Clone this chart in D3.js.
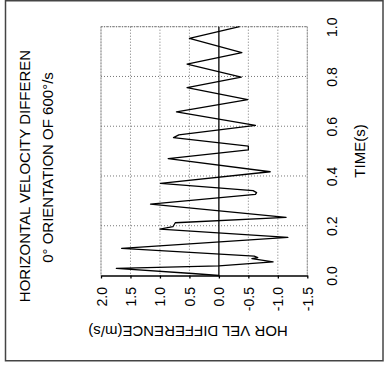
<!DOCTYPE html>
<html>
<head>
<meta charset="utf-8">
<script src="https://cdn.jsdelivr.net/npm/d3@7"></script>
<style>
body { margin: 0; background: #fff; }
text { font-family: "Liberation Sans", Arial, Helvetica, sans-serif; fill: #000; }
</style>
</head>
<body>
<div id="chart"></div>
<script>
var W = 388, H = 365;

// time (s) and horizontal velocity difference (m/s)
var times = [0.0, 0.008, 0.029, 0.039, 0.055, 0.068, 0.072, 0.078, 0.109, 0.153, 0.186, 0.196, 0.212, 0.234,
	0.287, 0.326, 0.333, 0.341, 0.37, 0.417, 0.47, 0.505, 0.52, 0.554, 0.565, 0.603, 0.658, 0.707,
	0.755, 0.797, 0.85, 0.896, 0.953, 1.0];
var velDiff = [0.0, 0.45, 1.74, 0.0, -0.92, -0.56, -0.66, -0.6, 1.65, -1.17, 1.0, 0.78, 0.74, -1.14,
	1.16, -0.62, -0.64, -0.58, 0.99, -0.87, 0.86, -0.5, -0.5, 0.77, 0.68, -0.62, 0.72, -0.49,
	0.54, -0.38, 0.54, -0.39, 0.5, -0.35];

var velTicks = [2.0, 1.5, 1.0, 0.5, 0.0, -0.5, -1.0, -1.5];
var timeTicks = [0.0, 0.2, 0.4, 0.6, 0.8, 1.0];

var pLeft = 101, pRight = 307.3, pTop = 26.7, pBottom = 275.5;

var v = d3.scaleLinear().domain([2.0, -1.5]).range([pLeft, pRight]);
var t = d3.scaleLinear().domain([0, 1]).range([pBottom, pTop]);
var fmt = d => d.toFixed(1);

var svg = d3.select("#chart").append("svg")
	.attr("width", W)
	.attr("height", H);

// outer border
svg.append("rect")
	.attr("x", 5.5)
	.attr("y", 0.75)
	.attr("width", 377.5)
	.attr("height", 360)
	.style("fill", "none")
	.style("stroke", "#444")
	.style("stroke-width", 1.5);

// dotted grid
var grid = svg.append("g");
grid.selectAll("line.vg")
	.data(velTicks.filter(d => d !== 0))
	.enter()
	.append("line")
	.attr("x1", d => v(d))
	.attr("x2", d => v(d))
	.attr("y1", pTop)
	.attr("y2", pBottom)
	.style("stroke", "#777")
	.style("stroke-width", 1)
	.style("stroke-dasharray", "1,2");

grid.selectAll("line.tg")
	.data(timeTicks.filter(d => d !== 0))
	.enter()
	.append("line")
	.attr("x1", pLeft)
	.attr("x2", pRight)
	.attr("y1", d => t(d))
	.attr("y2", d => t(d))
	.style("stroke", "#777")
	.style("stroke-width", 1)
	.style("stroke-dasharray", "1,2");

// frame (dotted) on top/left/right
svg.append("path")
	.attr("d", "M" + pLeft + "," + pBottom + "V" + pTop + "H" + pRight + "V" + pBottom)
	.style("fill", "none")
	.style("stroke", "#777")
	.style("stroke-width", 1)
	.style("stroke-dasharray", "1,1");

// zero line
svg.append("line")
	.attr("x1", v(0))
	.attr("x2", v(0))
	.attr("y1", pTop)
	.attr("y2", pBottom)
	.style("stroke", "#000")
	.style("stroke-width", 1.3);

// velocity axis (bottom)
var vAxis = svg.append("g")
	.attr("transform", "translate(0," + pBottom + ")")
	.call(d3.axisBottom(v).tickValues(velTicks).tickFormat(fmt).tickSize(3).tickSizeOuter(0));
vAxis.select(".domain").style("stroke", "#000").style("stroke-width", 1.3);
vAxis.selectAll(".tick line").style("stroke", "#000").style("stroke-width", 1.3);
vAxis.selectAll("text")
	.attr("transform", "rotate(-90)")
	.attr("x", -11.5)
	.attr("y", 0)
	.attr("dy", "0.36em")
	.style("text-anchor", "end")
	.style("font-size", "14px")
	.style("font-family", "'Liberation Sans', Arial, sans-serif");

// time axis labels (right)
var tAxis = svg.append("g")
	.attr("transform", "translate(" + pRight + ",0)")
	.call(d3.axisRight(t).tickValues(timeTicks).tickFormat(fmt).tickSize(0));
tAxis.select(".domain").remove();
tAxis.selectAll("text")
	.attr("transform", "rotate(-90)")
	.attr("x", 0)
	.attr("y", 25)
	.attr("dy", "0.36em")
	.style("text-anchor", "middle")
	.style("font-size", "14px")
	.style("font-family", "'Liberation Sans', Arial, sans-serif");

// data line
var line = d3.line()
	.x((d, i) => v(velDiff[i]))
	.y(d => t(d));

svg.append("path")
	.datum(times)
	.attr("d", line)
	.style("fill", "none")
	.style("stroke", "#000")
	.style("stroke-width", 1.3)
	.style("stroke-linejoin", "round");

// axis titles
svg.append("text")
	.attr("transform", "translate(360,151) rotate(-90)")
	.attr("dy", "0.36em")
	.style("text-anchor", "middle")
	.style("font-size", "15px")
	.text("TIME(s)");

svg.append("text")
	.attr("transform", "translate(188,331) rotate(180)")
	.attr("dy", "0.36em")
	.style("text-anchor", "middle")
	.style("font-size", "15px")
	.text("HOR VEL DIFFERENCE(m/s)");

// chart title
svg.append("text")
	.attr("transform", "translate(25,176) rotate(-90)")
	.attr("dy", "0.36em")
	.style("text-anchor", "middle")
	.style("font-size", "15px")
	.text("HORIZONTAL VELOCITY DIFFEREN");

svg.append("text")
	.attr("transform", "translate(48,167.5) rotate(-90)")
	.attr("dy", "0.36em")
	.style("text-anchor", "middle")
	.style("font-size", "15px")
	.text("0° ORIENTATION OF 600°/s");
</script>
</body>
</html>
